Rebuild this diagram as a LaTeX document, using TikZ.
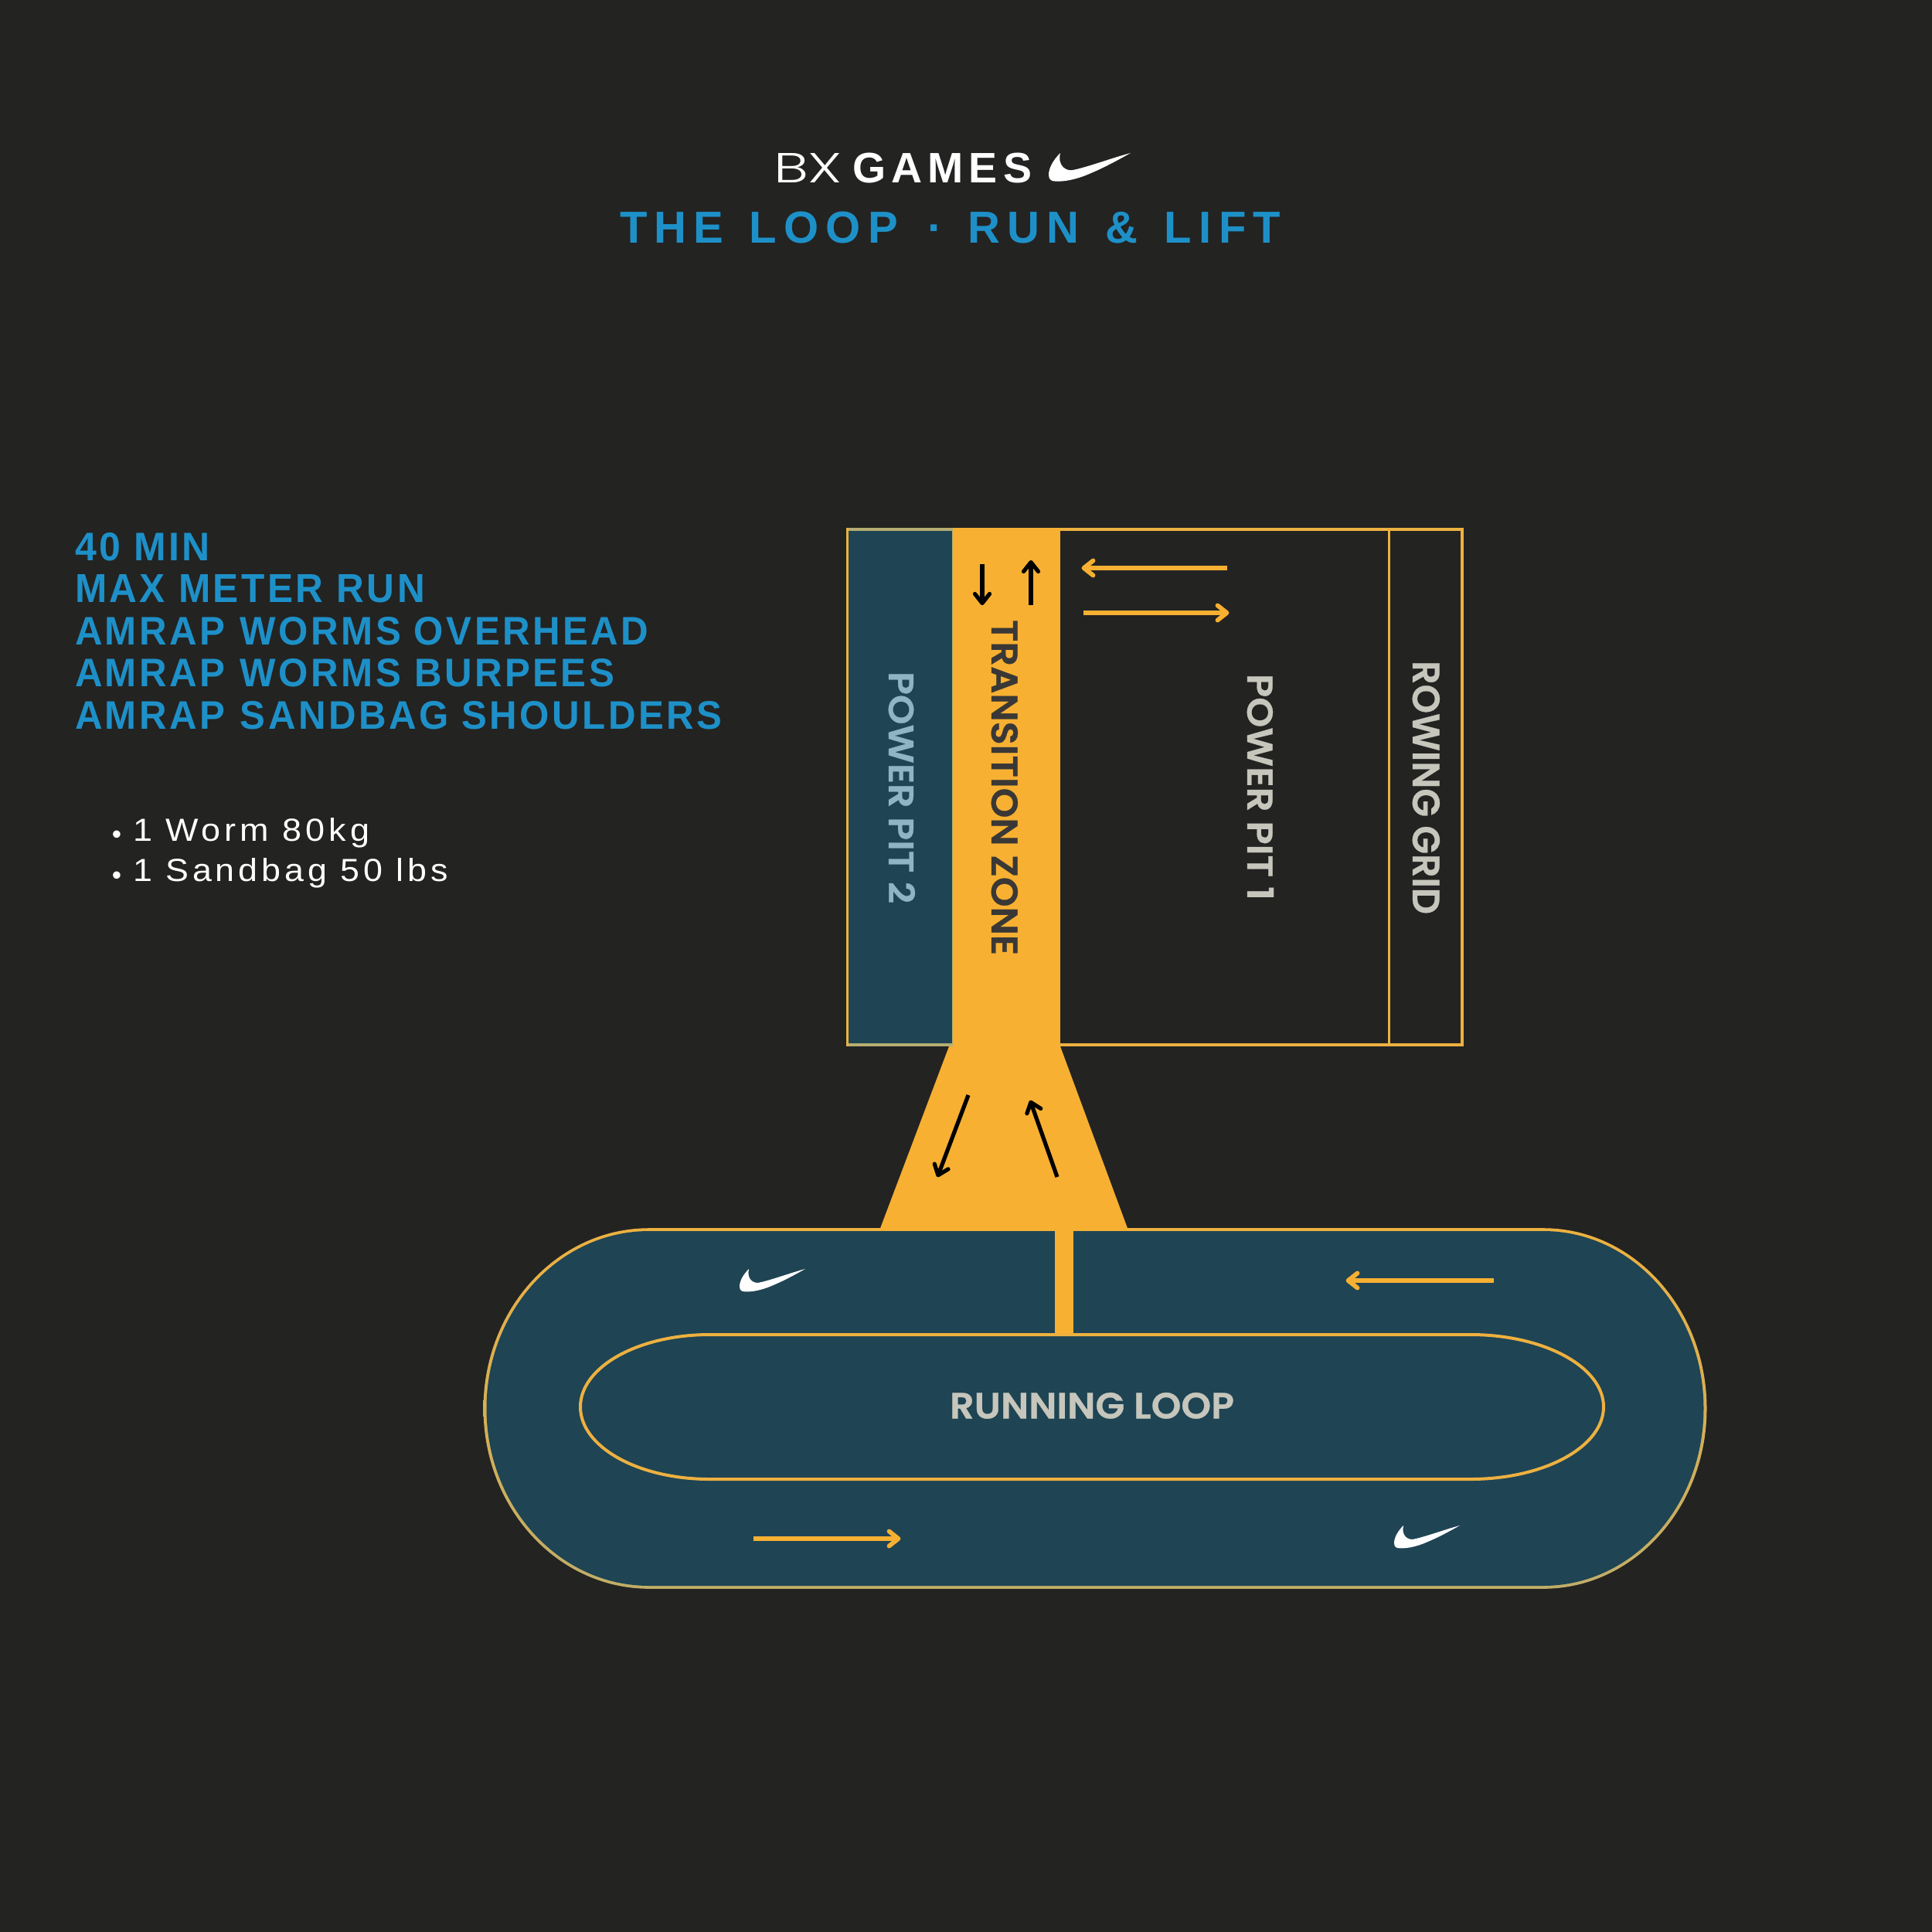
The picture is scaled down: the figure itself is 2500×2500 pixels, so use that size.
\documentclass[tikz,border=0pt]{standalone}
\usepackage{fontspec}
\usepackage{graphicx}
\usetikzlibrary{arrows.meta,calc}
\setmainfont{Liberation Sans}
\newfontfamily\bxfont{Poppins Light}
\newfontfamily\labfont{Poppins SemiBold}[FakeBold=0.6]
\newlength\pxu
\setlength\pxu{0.04cm}
\definecolor{bgc}{HTML}{232322}
\definecolor{teal}{HTML}{1F4454}
\definecolor{orangec}{HTML}{F7B032}
\definecolor{linec}{HTML}{EDB140}
\definecolor{tanc}{HTML}{B5AD72}
\definecolor{bluec}{HTML}{1E90C8}
\definecolor{greyc}{HTML}{C6C6BC}
\definecolor{pitblue}{HTML}{8FB5C4}
\definecolor{darktxt}{HTML}{3A3836}
\newcommand\fit[3]{\resizebox{#1\pxu}{#2\pxu}{#3}}
\newcommand\nkswoosh[3]{%
  \begin{scope}[shift={(#1,#2)},scale=#3]
  \fill[white] (318,0) .. controls (250,18) and (150,55) .. (95,66)
    .. controls (70,72) and (33,52) .. (45,0)
    .. controls (15,30) and (0,60) .. (0,85)
    .. controls (0,105) and (12,110) .. (28,110)
    .. controls (65,112) and (115,100) .. (160,80)
    .. controls (220,55) and (275,24) .. (318,0) -- cycle;
  \end{scope}}
\newcommand\stadium[6]{% l t r b xs xe
  (#5,#2) -- (#6,#2)
  arc[start angle=-90,end angle=90,x radius={#3-#6},y radius={(#4-#2)/2}]
  -- (#5,#4)
  arc[start angle=90,end angle=270,x radius={#5-#1},y radius={(#4-#2)/2}] -- cycle}
% arrow: shaft plus a chevron head with round ends
\newcommand\arw[3]{%
  \coordinate (tp) at ($(#3)!2.5\pxu!(#2)$);
  \coordinate (bk) at ($(tp)!12\pxu!(#2)$);
  \draw[#1] (#2) -- (tp);
  \draw[#1,line cap=round,line join=round] ($(bk)!9.5\pxu!90:(tp)$) -- (tp) -- ($(bk)!9.5\pxu!-90:(tp)$);}
\tikzset{
  txt/.style={inner sep=0pt,outer sep=0pt,anchor=base west},
  vtxt/.style={txt,rotate=-90},
  bigtxt/.style={txt,text=bluec,font=\bfseries},
  blk/.style={draw=black,line width=5.2\pxu},
  org/.style={draw=orangec,line width=5.8\pxu},
  oline/.style={draw=linec,line width=3.8\pxu},
}
\begin{document}
\begin{tikzpicture}[x=0.04cm,y=-0.04cm]
\fill[bgc] (0,0) rectangle (2500,2500);
\useasboundingbox (0,0) rectangle (2500,2500);
% header
\node[txt,text=white] (bx) at (1001,236) {\fit{89}{38}{\bxfont BX}};
\node[txt,text=white,font=\bfseries] (games) at (1103,236.5) {\fit{232}{38.5}{\addfontfeature{LetterSpace=13}GAMES}};
\nkswoosh{1357}{198}{0.333}
\node[bigtxt] (title) at (802,314) {\fit{855}{40.5}{\addfontfeature{LetterSpace=16}THE\hspace{.13em} LOOP\hspace{.22em} ·\hspace{.13em} RUN\hspace{.15em} \&\hspace{.15em} LIFT}};
% list
\node[bigtxt] (l1) at (97,725) {\fit{175}{36}{\addfontfeature{LetterSpace=7}40 MIN}};
\node[bigtxt] (l2) at (97,779) {\fit{453}{36}{\addfontfeature{LetterSpace=7}MAX METER RUN}};
\node[bigtxt] (l3) at (97,834) {\fit{742}{36}{\addfontfeature{LetterSpace=7}AMRAP\hspace{.05em} WORMS OVERHEAD}};
\node[bigtxt] (l4) at (97,888) {\fit{698}{36}{\addfontfeature{LetterSpace=7}AMRAP\hspace{.05em} WORMS BURPEES}};
\node[bigtxt] (l5) at (97,943) {\fit{837}{36}{\addfontfeature{LetterSpace=7}AMRAP\hspace{.05em} SANDBAG SHOULDERS}};
\node[txt,text=white,anchor=base] (b1) at (151,1091) {\fontsize{40pt}{40pt}\selectfont •};
\node[txt,text=white,anchor=base] (b2) at (151,1144) {\fontsize{40pt}{40pt}\selectfont •};
\node[txt,text=white] (w1) at (172,1088) {\fit{306}{30}{\addfontfeature{LetterSpace=11}1 Worm 80kg}};
\node[txt,text=white] (w2) at (172,1140) {\fit{408}{30}{\addfontfeature{LetterSpace=11}1 Sandbag 50 lbs}};
% upper block
\fill[teal] (1097,685) rectangle (1233,1352);
\fill[orangec] (1233,685) rectangle (1372,1352);
\draw[oline] (1096.5,685) rectangle (1892,1352);
\draw[oline] (1797.5,685) -- (1797.5,1352);
\draw[tanc,line width=3.8\pxu] (1098,685) -- (1233,685);
\draw[tanc,line width=3.8\pxu] (1098,1352) -- (1233,1352);
\draw[tanc,line width=2\pxu] (1233,687) -- (1233,1352);
\fill[orangec] (1233,683) rectangle (1372,1354);
\fill[orangec] (1228,1354) -- (1372,1354) -- (1460,1592) -- (1138,1592) -- cycle;
% running loop
\shade[top color=linec,middle color=tanc,bottom color=tanc!80!linec] \stadium{625.5}{1589.2}{2208.5}{2055.8}{840}{1997};
\fill[teal] \stadium{629.5}{1593}{2204.5}{2052}{840}{1997};
\fill[orangec] (1138,1589) -- (1460,1589) -- (1461,1592) -- (1137,1592) -- cycle;
\fill[orangec] (1365,1590) rectangle (1389,1728);
\draw[oline,line width=4\pxu] \stadium{751}{1727}{2075}{1914}{918}{1903};
% labels
\node[vtxt,text=pitblue,font=\labfont] (pit2) at (1150,869) {\fit{300}{34}{POWER PIT 2}};
\node[vtxt,text=darktxt,font=\labfont] (trans) at (1283,802) {\fit{434}{34}{TRANSITION ZONE}};
\node[vtxt,text=greyc,font=\labfont] (pit1) at (1614,872) {\fit{293}{34}{POWER PIT 1}};
\node[vtxt,text=greyc,font=\labfont] (row) at (1828,855) {\fit{328}{35}{ROWING GRID}};
\node[txt,text=greyc,font=\labfont] (loop) at (1229,1835.5) {\fit{368}{33.5}{RUNNING LOOP}};
% swooshes
\nkswoosh{957}{1642}{0.267}
\nkswoosh{1804}{1974}{0.267}
% arrows
\coordinate (a1s) at (1271,730); \coordinate (a1e) at (1271,783);
\coordinate (a2s) at (1334,783); \coordinate (a2e) at (1334,725);
\coordinate (a3s) at (1253,1417); \coordinate (a3e) at (1213,1523);
\coordinate (a4s) at (1368,1523); \coordinate (a4e) at (1333,1424);
\coordinate (o1s) at (1588,735); \coordinate (o1e) at (1400,735);
\coordinate (o2s) at (1402,793); \coordinate (o2e) at (1590,793);
\coordinate (o3s) at (1933,1657); \coordinate (o3e) at (1742,1657);
\coordinate (o4s) at (975,1991); \coordinate (o4e) at (1165,1991);
\arw{blk}{a1s}{a1e}
\arw{blk}{a2s}{a2e}
\arw{blk}{a3s}{a3e}
\arw{blk}{a4s}{a4e}
\arw{org}{o1s}{o1e}
\arw{org}{o2s}{o2e}
\arw{org}{o3s}{o3e}
\arw{org}{o4s}{o4e}
\end{tikzpicture}
\end{document}
